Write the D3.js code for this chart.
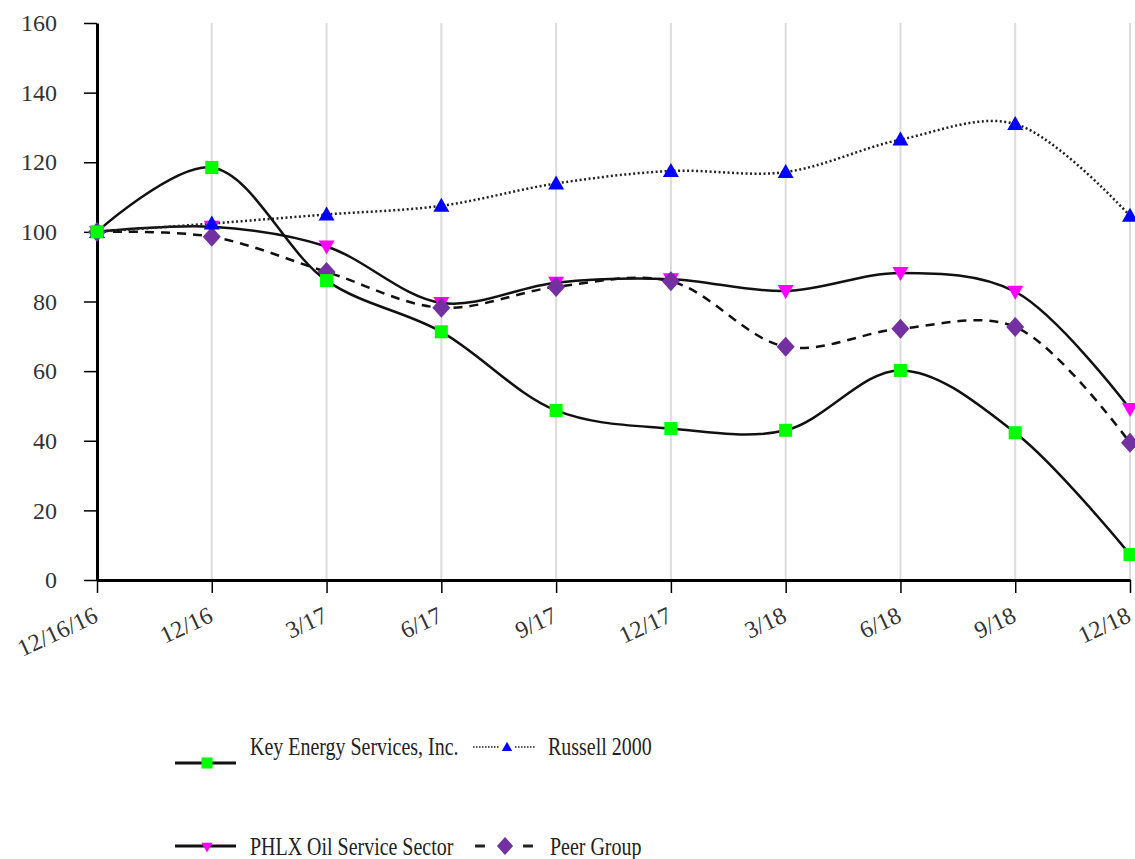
<!DOCTYPE html>
<html>
<head>
<meta charset="utf-8">
<script src="https://cdn.jsdelivr.net/npm/d3@7"></script>
<style>
  body { margin: 0; background: #fff; }
  svg { display: block; }
  svg text { font-family: 'Liberation Serif', 'DejaVu Serif', serif; }
</style>
</head>
<body>
<svg id="chart" width="1135" height="859"></svg>
<script>
const categories = ['12/16/16', '12/16', '3/17', '6/17', '9/17', '12/17', '3/18', '6/18', '9/18', '12/18'];
const yTicks = [0, 20, 40, 60, 80, 100, 120, 140, 160];

const keyEnergy = [100, 118.5, 86, 71.3, 48.7, 43.5, 43, 60.2, 42.3, 7.3];
const russell = [100, 102.4, 105, 107.5, 113.9, 117.5, 117.2, 126.5, 131, 104.6];
const phlx = [100, 101.5, 95.8, 79.6, 85.4, 86.4, 83, 88.2, 82.8, 49.1];
const peerGroup = [100, 98.6, 88.5, 78.2, 84.2, 85.8, 67, 72.2, 72.7, 39.4];

const plotLeft = 97, plotRight = 1130, plotTop = 23, plotBottom = 580,
    font = 'Liberation Serif, DejaVu Serif, serif';

const svg = d3.select('#chart');

const x = d3.scalePoint().domain(categories).range([plotLeft, plotRight]);
const y = d3.scaleLinear().domain([0, 160]).range([plotBottom, plotTop]);

// vertical grid lines
svg.append('g')
    .selectAll('line')
    .data(categories.slice(1))
    .enter()
    .append('line')
    .attr('x1', (d) => x(d))
    .attr('x2', (d) => x(d))
    .attr('y1', plotTop)
    .attr('y2', plotBottom)
    .attr('stroke', '#dcdcdc')
    .attr('stroke-width', 2);

// y axis
const yAxis = svg.append('g')
    .attr('transform', `translate(${plotLeft},0)`)
    .call(d3.axisLeft(y).tickValues(yTicks).tickSize(13).tickPadding(27).tickSizeOuter(0))
    .attr('font-family', font)
    .attr('font-size', 24);
yAxis.select('.domain').attr('stroke-width', 3);
yAxis.selectAll('.tick line').attr('stroke-width', 1.5);
yAxis.selectAll('text').attr('fill', '#333');

// x axis
const xAxis = svg.append('g')
    .attr('transform', `translate(0,${plotBottom})`)
    .call(d3.axisBottom(x).tickSize(13).tickSizeOuter(0))
    .attr('font-family', font)
    .attr('font-size', 24);
xAxis.select('.domain').attr('stroke-width', 3);
xAxis.selectAll('.tick line').attr('stroke-width', 1.5);
xAxis.selectAll('text')
    .attr('fill', '#333')
    .attr('text-anchor', 'end')
    .attr('y', 0)
    .attr('dy', 0)
    .attr('transform', 'translate(2,41) rotate(-25)');

const line = d3.line()
    .x((d, i) => x(categories[i]))
    .y((d) => y(d))
    .curve(d3.curveCatmullRom.alpha(0.5));

const series = [
    { name: 'PHLX Oil Service Sector', values: phlx, dash: null, symbol: 'tdown', color: '#ff00ff' },
    { name: 'Peer Group', values: peerGroup, dash: '9,7', symbol: 'diamond', color: '#7330a0' },
    { name: 'Russell 2000', values: russell, dash: '2,2.5', symbol: 'tup', color: '#0000ff' },
    { name: 'Key Energy Services, Inc.', values: keyEnergy, dash: null, symbol: 'square', color: '#00ff00' },
];

function symbolPath(type) {
    if (type === 'square') return d3.symbol().type(d3.symbolSquare).size(170)();
    if (type === 'diamond') return 'M0,-10L9,0L0,10L-9,0Z';
    if (type === 'tup') return 'M0,-8L8,6L-8,6Z';
    return 'M0,8L8,-6L-8,-6Z';
}

series.forEach((s) => {
    svg.append('path')
        .datum(s.values)
        .attr('fill', 'none')
        .attr('stroke', s.dash === '2,2.5' ? '#222' : '#111')
        .attr('stroke-width', 2.5)
        .attr('stroke-dasharray', s.dash)
        .attr('d', line);
});

series.forEach((s) => {
    svg.append('g')
        .selectAll('path')
        .data(s.values)
        .enter()
        .append('path')
        .attr('transform', (d, i) => `translate(${x(categories[i])},${y(d)})`)
        .attr('d', symbolPath(s.symbol))
        .attr('fill', s.color);
});

// legend
const legendItems = [
    { s: series[3], lx: 175, ly: 763, tx: 250, ty: 755, kind: 'solid' },
    { s: series[2], lx: 473, ly: 747, tx: 548, ty: 755, kind: 'dotted' },
    { s: series[0], lx: 175, ly: 846, tx: 250, ty: 855, kind: 'solid' },
    { s: series[1], lx: 473, ly: 846, tx: 550, ty: 855, kind: 'dashed' },
];

const legend = svg.append('g');
legendItems.forEach((it) => {
    const g = legend.append('g').attr('transform', `translate(${it.lx},${it.ly})`);
    if (it.kind === 'solid') {
        g.append('line').attr('x1', 0).attr('x2', 61).attr('stroke', '#111').attr('stroke-width', 3);
        g.append('path').attr('d', symbolPath(it.s.symbol)).attr('fill', it.s.color)
            .attr('transform', it.s.symbol === 'square' ? 'translate(32,0) scale(0.85)' : 'translate(32,1) scale(0.7)');
    } else if (it.kind === 'dotted') {
        g.append('line').attr('x1', 0).attr('x2', 62).attr('stroke', '#555').attr('stroke-width', 2).attr('stroke-dasharray', '1.5,1.5');
        g.append('rect').attr('x', 26).attr('y', -8).attr('width', 16).attr('height', 14).attr('fill', '#fff');
        g.append('path').attr('transform', 'translate(34,0) scale(0.65)').attr('d', symbolPath('tup')).attr('fill', it.s.color);
    } else {
        g.append('line').attr('x1', 2).attr('x2', 12).attr('stroke', '#222').attr('stroke-width', 3);
        g.append('line').attr('x1', 50).attr('x2', 60).attr('stroke', '#222').attr('stroke-width', 3);
        g.append('path').attr('transform', 'translate(32,0) scale(0.9)').attr('d', symbolPath('diamond')).attr('fill', it.s.color);
    }
    legend.append('text')
        .attr('transform', `translate(${it.tx},${it.ty}) scale(0.815,1)`)
        .attr('font-family', font)
        .attr('font-size', 24.5)
        .attr('fill', '#222')
        .text(it.s.name);
});
</script>
</body>
</html>
